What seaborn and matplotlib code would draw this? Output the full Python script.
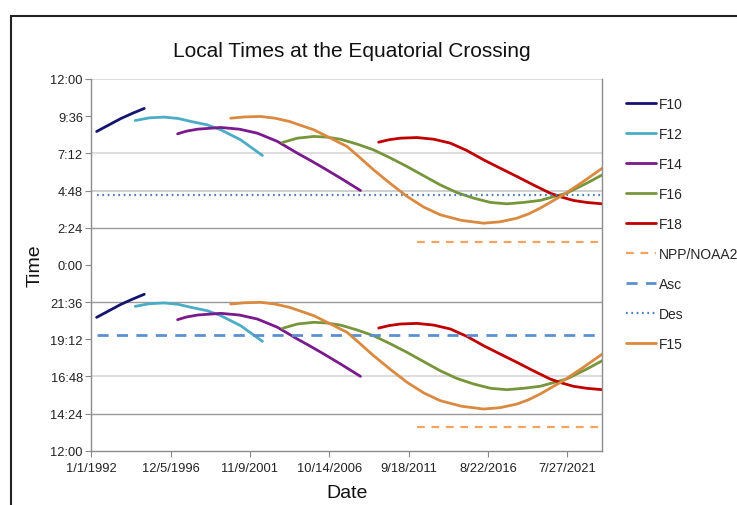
import numpy as np
import pandas as pd
import seaborn as sns
import matplotlib.pyplot as plt

from matplotlib.patches import Rectangle
from matplotlib.ticker import FixedLocator, FuncFormatter
import matplotlib.dates as mdates

sns.set_theme(style="white")
plt.rcParams['font.family'] = ['Liberation Sans', 'DejaVu Sans']

# ascending node local time (hours), read off the lower half of the chart
# the descending node is 12 h later and is drawn in the upper half
f10_year = [1992.33, 1993.10, 1993.84, 1994.57, 1995.29]
f10_asc = [20.61, 21.04, 21.45, 21.79, 22.10]

f12_year = [1994.73, 1995.60, 1996.53, 1997.40, 1998.18, 1999.20, 2000.04, 2001.28, 2002.63]
f12_asc = [21.32, 21.49, 21.54, 21.45, 21.26, 21.04, 20.72, 20.07, 19.06]

f14_year = [1997.36, 1997.90, 1998.60, 2000.04, 2001.20, 2002.32, 2003.56, 2004.80, 2005.60,
            2006.45, 2007.48, 2008.10, 2008.72]
f14_asc = [20.46, 20.63, 20.76, 20.87, 20.76, 20.50, 19.97, 19.21, 18.75,
           18.24, 17.60, 17.20, 16.80]

f16_year = [2003.87, 2004.80, 2005.82, 2006.60, 2007.48, 2008.50, 2009.54, 2010.60, 2011.61, 2012.65,
            2013.68, 2014.70, 2015.74, 2016.80, 2017.81, 2018.85, 2019.88, 2021.53, 2022.77, 2023.74]
f16_asc = [19.90, 20.18, 20.29, 20.25, 20.11, 19.80, 19.42, 18.89, 18.35, 17.75,
           17.16, 16.67, 16.31, 16.03, 15.94, 16.03, 16.16, 16.63, 17.27, 17.81]

f18_year = [2009.85, 2010.50, 2011.20, 2012.23, 2013.27, 2014.30, 2015.33, 2016.37, 2017.40, 2018.43,
            2019.46, 2020.50, 2021.20, 2021.94, 2022.77, 2023.74]
f18_asc = [19.92, 20.08, 20.18, 20.22, 20.11, 19.86, 19.38, 18.78, 18.24, 17.71,
           17.16, 16.63, 16.38, 16.16, 16.03, 15.94]

f15_year = [2000.66, 2001.50, 2002.52, 2003.40, 2004.30, 2005.82, 2006.86, 2007.89, 2008.60, 2009.54,
            2010.60, 2011.61, 2012.65, 2013.68, 2015.00, 2016.37, 2017.40, 2018.43, 2019.16, 2019.88,
            2020.60, 2021.32, 2022.56, 2023.74]
f15_asc = [21.47, 21.55, 21.58, 21.47, 21.26, 20.72, 20.18, 19.64, 19.00, 18.13,
           17.23, 16.42, 15.73, 15.23, 14.87, 14.69, 14.78, 15.01, 15.29, 15.66,
           16.09, 16.52, 17.38, 18.24]

npp_year = [2012.23, 2023.74]
npp_asc = [13.5, 13.5]

ref_year = [1992.33, 2023.74]
asc_ref = [19.5, 19.5]
des_ref = [28.5, 28.5]

y_ticks = [12, 14.4, 16.8, 19.2, 21.6, 24, 26.4, 28.8, 31.2, 33.6, 36]

start = pd.Timestamp("1992-01-01")


def to_date(years):
    return start + pd.to_timedelta((np.array(years) - 1992) * 365.25, unit="D")


fig = plt.figure(figsize=(7.37, 5.06), dpi=100)
ax = fig.add_axes([0.1239, 0.1073, 0.6933, 0.7346])

# gridlines (some lighter, some darker, as in the original)
for y, c in [(31.2, "#dddddd"), (16.8, "#dddddd"), (28.8, "#cfcfcf"),
             (26.4, "#999999"), (21.6, "#999999"), (14.4, "#999999"), (36, "#dddddd")]:
    ax.axhline(y, color=c, lw=1.0 if c == "#999999" else 1.4, zorder=0)

sats = [
    ("F10", f10_year, f10_asc, "#14146e"),
    ("F12", f12_year, f12_asc, "#4bacc6"),
    ("F14", f14_year, f14_asc, "#7a1a8c"),
    ("F16", f16_year, f16_asc, "#77963c"),
    ("F18", f18_year, f18_asc, "#c00000"),
]
for name, yrs, asc, col in sats:
    d = to_date(yrs)
    sns.lineplot(x=d, y=np.array(asc), ax=ax, color=col, lw=2.0, label=name)
    sns.lineplot(x=d, y=np.array(asc) + 12, ax=ax, color=col, lw=2.0)

d = to_date(npp_year)
sns.lineplot(x=d, y=np.array(npp_asc), ax=ax, color="#f4a460", lw=1.6,
             linestyle=(0, (3.5, 3)), label="NPP/NOAA20")
sns.lineplot(x=d, y=np.array(npp_asc) + 12, ax=ax, color="#f4a460", lw=1.6,
             linestyle=(0, (3.5, 3)))

d = to_date(ref_year)
sns.lineplot(x=d, y=asc_ref, ax=ax, color="#5b8fd0", lw=2.0,
             linestyle=(0, (4, 3)), label="Asc")
sns.lineplot(x=d, y=des_ref, ax=ax, color="#4f81bd", lw=1.6,
             linestyle=(0, (0.8, 1.6)), label="Des")

d = to_date(f15_year)
sns.lineplot(x=d, y=np.array(f15_asc), ax=ax, color="#d98a40", lw=2.0, label="F15")
sns.lineplot(x=d, y=np.array(f15_asc) + 12, ax=ax, color="#d98a40", lw=2.0)

h, l = ax.get_legend_handles_labels()
if ax.get_legend() is not None:
    ax.get_legend().remove()

ax.set_ylim(12, 36)
ax.set_yticks(y_ticks)
ax.yaxis.set_major_formatter(FuncFormatter(
    lambda v, p: "%d:%02d" % (int(v) % 24, round((v - int(v)) * 60))))

x_ticks = pd.date_range("1992-01-01", periods=7, freq="1800D")
ax.set_xlim(mdates.date2num(start), mdates.date2num(pd.Timestamp("2023-09-28")))
ax.xaxis.set_major_locator(FixedLocator(mdates.date2num(x_ticks)))
ax.xaxis.set_major_formatter(FuncFormatter(
    lambda v, p: "{d.month}/{d.day}/{d.year}".format(d=mdates.num2date(v))))

ax.tick_params(axis="both", labelsize=9.3, colors="#222222", length=4,
               width=0.8, direction="out", left=True, bottom=True, pad=2)
ax.tick_params(axis="x", pad=4)
ax.tick_params(axis="both", color="#888888")
for s in ["left", "bottom", "right"]:
    ax.spines[s].set_color("#8c8c8c")
    ax.spines[s].set_linewidth(1.0)
ax.spines["top"].set_visible(False)

ax.set_xlabel("Date", fontsize=14, color="#111111", labelpad=7)
ax.set_ylabel("Time", fontsize=14, color="#111111", labelpad=5)

fig.text(0.478, 0.899, "Local Times at the Equatorial Crossing",
         ha="center", va="center", fontsize=15, color="#111111")

fig.legend(h, l, loc="upper left", bbox_to_anchor=(0.849, 0.806),
           frameon=False, fontsize=10, handlelength=2.2, handletextpad=0.2,
           labelspacing=1.15, borderpad=0, borderaxespad=0)

# outer chart border (cropped on the right and bottom in the original)
fig.patches.append(Rectangle((0.015, -0.5), 5, 0.966 + 0.5, transform=fig.transFigure,
                             fill=False, edgecolor="#222222", lw=1.5))

fig.savefig("out.png", dpi=100)
